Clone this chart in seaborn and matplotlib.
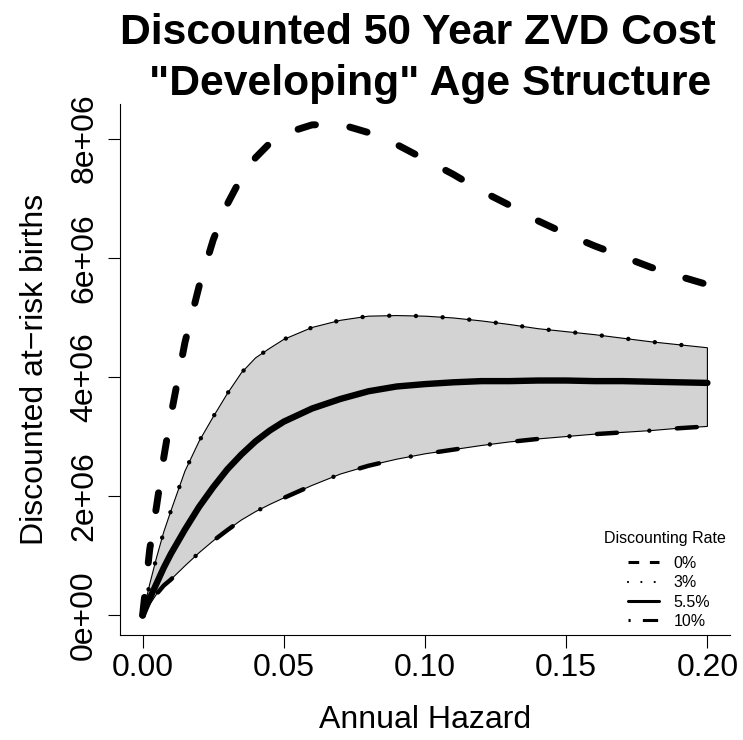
import matplotlib
matplotlib.use('Agg')
import matplotlib.pyplot as plt
from matplotlib.lines import Line2D
import seaborn as sns
import numpy as np

# Valeurs (naissances en millions)
hazard = [0, 0.0025, 0.005, 0.0075, 0.01, 0.015, 0.02, 0.025, 0.03, 0.035,
          0.04, 0.045, 0.05, 0.06, 0.07, 0.08, 0.09, 0.10, 0.11, 0.12,
          0.13, 0.14, 0.15, 0.16, 0.17, 0.18, 0.19, 0.20]
rate_0 = [0, 1.1, 1.85, 2.65, 3.35, 4.58, 5.52, 6.3, 6.9, 7.35,
          7.68, 7.92, 8.08, 8.23, 8.24, 8.1, 7.9, 7.65, 7.4, 7.12,
          6.88, 6.62, 6.4, 6.2, 6.02, 5.84, 5.69, 5.55]
rate_3 = [0, 0.52, 0.98, 1.4, 1.75, 2.42, 2.92, 3.33, 3.72, 4.07,
          4.32, 4.48, 4.63, 4.83, 4.95, 5.02, 5.03, 5.02, 4.99, 4.94,
          4.88, 4.81, 4.76, 4.71, 4.65, 4.59, 4.54, 4.49]
rate_55 = [0, 0.28, 0.54, 0.8, 1.03, 1.44, 1.82, 2.15, 2.45, 2.7,
           2.92, 3.1, 3.25, 3.47, 3.63, 3.76, 3.84, 3.88, 3.91, 3.93,
           3.93, 3.94, 3.94, 3.93, 3.93, 3.92, 3.91, 3.9]
rate_10 = [0, 0.18, 0.36, 0.5, 0.6, 0.83, 1.05, 1.25, 1.43, 1.6,
           1.74, 1.86, 1.97, 2.18, 2.37, 2.51, 2.62, 2.71, 2.78, 2.85,
           2.91, 2.96, 3.0, 3.04, 3.07, 3.1, 3.14, 3.17]

x_ticks = [0, 0.05, 0.10, 0.15, 0.20]
x_labels = ['0.00', '0.05', '0.10', '0.15', '0.20']
y_ticks = [0, 2e6, 4e6, 6e6, 8e6]
y_labels = ['0e+00', '2e+06', '4e+06', '6e+06', '8e+06']
legend_labels = ['0%', '3%', '5.5%', '10%']
title_lines = ['Discounted 50 Year ZVD Cost', '"Developing" Age Structure']

sns.set_style('ticks')
plt.rcParams['font.family'] = ['Liberation Sans', 'DejaVu Sans']
plt.rcParams['text.color'] = 'black'
plt.rcParams['axes.labelcolor'] = 'black'

x = np.array(hazard)
y0 = np.array(rate_0) * 1e6
y3 = np.array(rate_3) * 1e6
y55 = np.array(rate_55) * 1e6
y10 = np.array(rate_10) * 1e6

fig = plt.figure(figsize=(7.43, 7.40), dpi=100)
ax = fig.add_axes([120 / 743, 1 - 635 / 740, 610 / 743, 531 / 740])

# bande grise entre 3% et 10%
ax.fill(np.concatenate([x, x[::-1]]), np.concatenate([y3, y10[::-1]]),
        facecolor='#D3D3D3', edgecolor='black', linewidth=0.8, zorder=1)

sns.lineplot(x=x, y=y3, ax=ax, color='black', linewidth=3.2, estimator=None,
             linestyle=(0, (0.01, 6)), dash_capstyle='round', zorder=2)
sns.lineplot(x=x, y=y10, ax=ax, color='black', linewidth=3.2, estimator=None,
             linestyle=(0, (0.01, 6.2, 4.5, 7.3)), dash_capstyle='round', zorder=2)
sns.lineplot(x=x, y=y55, ax=ax, color='black', linewidth=4.6, estimator=None,
             solid_capstyle='round', zorder=3)
sns.lineplot(x=x, y=y0, ax=ax, color='black', linewidth=5.0, estimator=None,
             linestyle=(0, (2.6, 5)), dash_capstyle='round', zorder=4)

ax.set_xlim(-0.008, 0.208)
ax.set_ylim(-0.33e6, 8.58e6)
ax.set_xticks(x_ticks)
ax.set_xticklabels(x_labels)
ax.set_yticks(y_ticks)
ax.set_yticklabels(y_labels, rotation=90, va='center')

for side in ['top', 'right']:
    ax.spines[side].set_visible(False)
for side in ['left', 'bottom']:
    ax.spines[side].set_linewidth(0.8)
    ax.spines[side].set_color('black')
ax.tick_params(axis='both', length=9, width=0.8, color='black',
               labelsize=23, labelcolor='black')
ax.tick_params(axis='x', pad=4)
ax.tick_params(axis='y', pad=6)

ax.set_xlabel('Annual Hazard', fontsize=23, labelpad=16)
ax.set_ylabel('Discounted at\u2212risk births', fontsize=23, labelpad=14)

# titre sur deux lignes
fig.text(418 / 743, 1 - 44 / 740, title_lines[0], fontsize=30.7,
         fontweight='bold', ha='center', va='baseline')
fig.text(430 / 743, 1 - 95 / 740, title_lines[1], fontsize=30.7,
         fontweight='bold', ha='center', va='baseline')

handles = [
    Line2D([], [], color='black', linewidth=2.2, linestyle=(0, (3.5, 3.5)),
           dash_capstyle='butt'),
    Line2D([], [], color='black', linewidth=1.6, linestyle=(0, (0.01, 6)),
           dash_capstyle='round'),
    Line2D([], [], color='black', linewidth=2.2),
    Line2D([], [], color='black', linewidth=2.2, linestyle=(0, (0.7, 4, 5, 3)),
           dash_capstyle='butt'),
]
leg = ax.legend(handles, legend_labels, frameon=False,
                loc='upper left', bbox_to_anchor=(628 / 743, 1 - 556 / 740),
                bbox_transform=fig.transFigure, borderpad=0, borderaxespad=0,
                fontsize=11.5, handlelength=1.95, handleheight=0.7,
                labelspacing=0.27, handletextpad=0.9)
fig.text(665 / 743, 1 - 538 / 740, 'Discounting Rate', fontsize=11.5,
         ha='center', va='center')

fig.savefig('out.png', dpi=100)
plt.close(fig)
